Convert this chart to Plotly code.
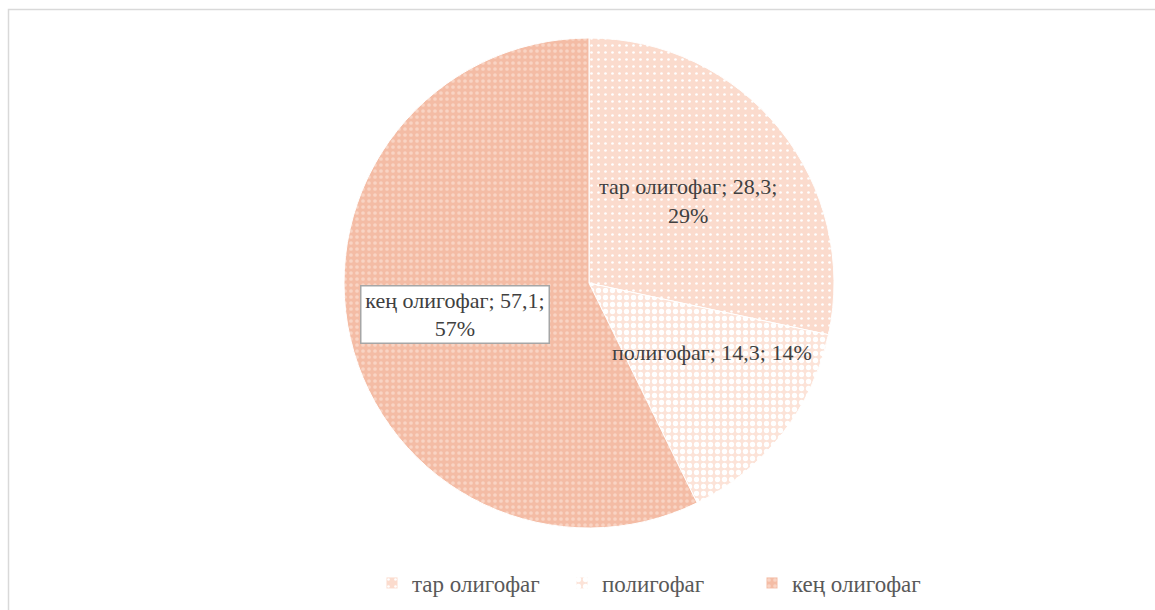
import plotly.graph_objects as go

# Feeding groups and their shares
categories = ["тар олигофаг", "полигофаг", "кең олигофаг"]
values = [28.3, 14.3, 57.1]
percent_labels = ["29%", "14%", "57%"]

W, H = 1155, 610
FONT = "Liberation Serif"

fill_colors = ["#FBDBCD", "#FCE3D8", "#F4BCA5"]
dot_colors = ["#FFFFFF", "#FFFFFF", "#F9D4C4"]
dot_sizes = [7, 7, 6]
dot_solid = [0.12, 0.45, 0.3]

fig = go.Figure()

# Pie area: centre (589, 283) px, radius 245 px
cx, cy, r = 589, 283, 245
fig.add_trace(go.Pie(
    labels=categories,
    values=values,
    sort=False,
    direction="clockwise",
    rotation=0,
    textinfo="none",
    hoverinfo="label+value+percent",
    marker=dict(
        colors=fill_colors,
        line=dict(color="#FFFFFF", width=1),
        pattern=dict(
            shape=[".", ".", "."],
            fillmode="replace",
            bgcolor=fill_colors,
            fgcolor=dot_colors,
            size=dot_sizes,
            solidity=dot_solid,
        ),
    ),
    domain=dict(x=[(cx - r) / W, (cx + r) / W],
                y=[(H - cy - r) / H, (H - cy + r) / H]),
    showlegend=True,
))

def fmt(v):
    return f"{v:.1f}".replace(".", ",")

# Data labels: "name; value; percent"
label_texts = [
    f"{categories[0]}; {fmt(values[0])};<br>{percent_labels[0]}",
    f"{categories[1]}; {fmt(values[1])}; {percent_labels[1]}",
    f"{categories[2]}; {fmt(values[2])};<br>{percent_labels[2]}",
]
label_xy = [(688, 201), (712, 352), (455, 314)]
label_boxed = [False, False, True]

for text, (lx, ly), boxed in zip(label_texts, label_xy, label_boxed):
    ann = dict(
        text=text, x=lx / W, y=1 - ly / H, xref="paper", yref="paper",
        xanchor="center", yanchor="middle", showarrow=False,
        font=dict(family=FONT, size=22, color="#404040"),
        align="center",
    )
    if boxed:
        ann.update(bgcolor="#FFFFFF", bordercolor="#A6A6A6", borderwidth=1.5,
                   borderpad=1, width=185)
    fig.add_annotation(**ann)

# Chart-area frame
fig.add_shape(type="rect", xref="paper", yref="paper",
              x0=8.5 / W, x1=1.02, y0=-0.02, y1=1 - 9.5 / H,
              line=dict(color="#D9D9D9", width=1.5), fillcolor="rgba(0,0,0,0)")

fig.update_layout(
    width=W, height=H,
    margin=dict(l=0, r=0, t=0, b=0),
    paper_bgcolor="#FFFFFF",
    plot_bgcolor="#FFFFFF",
    legend=dict(
        orientation="h",
        x=372 / W, xanchor="left",
        y=1 - 583 / H, yanchor="middle",
        font=dict(family=FONT, size=23, color="#595959"),
        itemwidth=30,
        entrywidth=145,
        entrywidthmode="pixels",
        bgcolor="rgba(0,0,0,0)",
    ),
)

fig.write_html("out.html")
